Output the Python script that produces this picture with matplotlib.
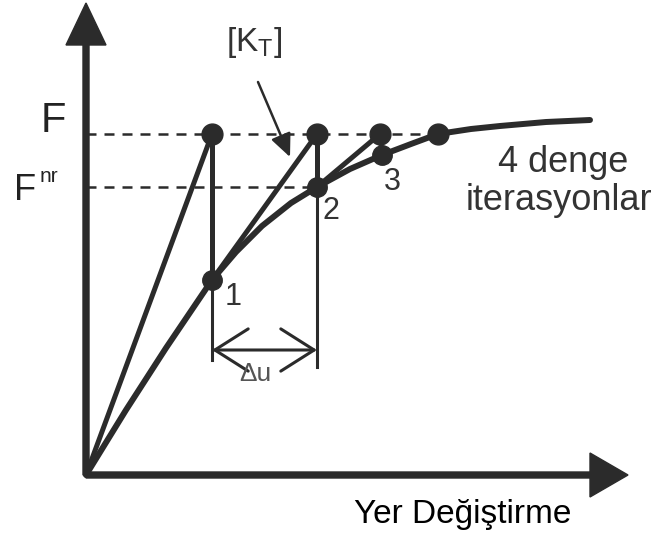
import matplotlib
matplotlib.use("Agg")
import matplotlib.pyplot as plt

plt.rcParams['font.family'] = ['Liberation Sans', 'DejaVu Sans']
plt.rcParams['mathtext.fontset'] = 'custom'
plt.rcParams['mathtext.rm'] = 'Liberation Sans'

# kuvvet-yer degistirme egrisi (denge yolu)
curve_u = [0, 40, 80, 126, 150, 176, 205, 231, 264, 296, 325, 352, 385, 414, 460, 504]
curve_f = [0, 65, 127, 195, 223, 249, 272, 288, 306, 320, 331, 341, 346, 349, 353, 355]

# yuk seviyeleri
F_load = 341
F_nr = 288

# Newton-Raphson iterasyonlari
iter_u_top = [126, 231, 294, 352]     # F seviyesindeki noktalar
eq_u = [126, 231, 296]                # egri uzerindeki denge noktalari
eq_f = [195, 288, 320]
eq_labels = ['1', '2', '3']

ink = '#2b2b2b'

fig = plt.figure(figsize=(6.69, 5.40), dpi=100)
ax = fig.add_axes([0, 0, 1, 1])
ax.set_xlim(-86, 583)
ax.set_ylim(-65, 475)
ax.axis('off')

# eksenler
ax.arrow(0, 0, 0, 472, width=6, head_width=40, head_length=42,
         length_includes_head=True, color=ink, zorder=3)
ax.arrow(0, 0, 542, 0, width=6, head_width=44, head_length=38,
         length_includes_head=True, color=ink, zorder=3)

# kesikli yuk cizgileri
ax.plot([0, iter_u_top[-1]], [F_load, F_load], color=ink, lw=1.8, dashes=(4, 3.2))
ax.plot([0, eq_u[1]], [F_nr, F_nr], color=ink, lw=1.8, dashes=(4, 3.2))

# denge egrisi
ax.plot(curve_u, curve_f, color=ink, lw=4.3, solid_capstyle='round',
        solid_joinstyle='round', zorder=4)

# teget rijitlik dogrulari ve dikey duzeltmeler
start_u = [0] + eq_u[:-1]
start_f = [0] + eq_f[:-1]
for i in range(3):
    ax.plot([start_u[i], iter_u_top[i]], [start_f[i], F_load], color=ink, lw=3.6,
            solid_capstyle='round', zorder=4)
    ax.plot([iter_u_top[i], eq_u[i]], [F_load, eq_f[i]], color=ink, lw=3.6, zorder=4)

# delta u olcusu
dim_f = 125
ax.plot([eq_u[0], eq_u[0]], [eq_f[0], 115], color=ink, lw=2.2)
ax.plot([eq_u[1], eq_u[1]], [eq_f[1], 108], color=ink, lw=2.2)
ax.annotate('', xy=(eq_u[1], dim_f), xytext=(eq_u[0], dim_f),
            arrowprops=dict(arrowstyle='<->,head_length=1.5,head_width=0.95',
                            color=ink, lw=2.2, shrinkA=0, shrinkB=0,
                            mutation_scale=16))
ax.text(169, 101, 'Δu', fontsize=19, color='#555555', ha='center', va='center')

# noktalar
ax.plot(iter_u_top, [F_load] * len(iter_u_top), 'o', color=ink, ms=15, zorder=5)
ax.plot(eq_u, eq_f, 'o', color=ink, ms=14, zorder=5)

label_pos = [(147, 178), (245, 264), (306, 293)]
for lab, (x, y) in zip(eq_labels, label_pos):
    ax.text(x, y, lab, fontsize=22, color='#333333', ha='center', va='center')

# etiketler
ax.text(-33, 354, 'F', fontsize=30, color='#222222', ha='center', va='center')
ax.text(-61, 285, 'F', fontsize=26, color='#222222', ha='center', va='center')
ax.text(-37, 298, 'nr', fontsize=15, color='#222222', ha='center', va='center')

ax.text(168, 433, r'[K$_\mathrm{T}$]', fontsize=24, color='#333333',
        ha='center', va='center')
ax.annotate('', xy=(204, 318), xytext=(172, 393),
            arrowprops=dict(arrowstyle='-|>,head_length=1.0,head_width=0.45',
                            color=ink, lw=1.8, shrinkA=0, shrinkB=0,
                            mutation_scale=14))

ax.text(412, 312, '4 denge', fontsize=26, color='#333333', ha='left', va='center')
ax.text(380, 275, 'iterasyonlar', fontsize=26, color='#333333', ha='left', va='center')

ax.text(377, -40, 'Yer Değiştirme', fontsize=24, color='#000000',
        ha='center', va='center')

fig.savefig('out.png', dpi=100, facecolor='white')
